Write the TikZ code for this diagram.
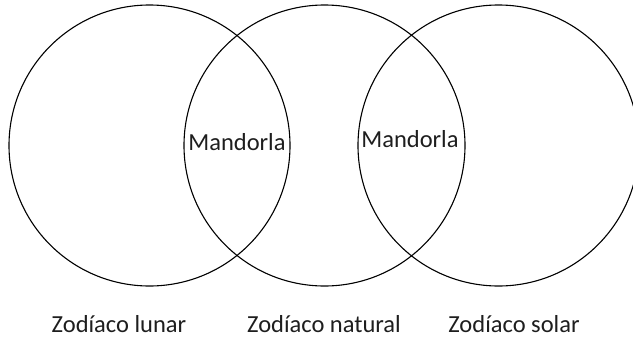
\documentclass[tikz,border=0pt]{standalone}
\usepackage{fontspec}
\setmainfont{Carlito}
\usepackage{tikz}
\usetikzlibrary{positioning}
\definecolor{inkgray}{RGB}{30, 30, 30}

\begin{document}
\begin{tikzpicture}[
        x=1pt, y=-1pt,
        zodiac/.style={circle, draw=black, line width=1.1pt, minimum size=281pt, inner sep=0pt},
        tag/.style={anchor=base, inner sep=0pt, text=inkgray, font=\fontsize{24.5}{28}\selectfont}
    ]
        \useasboundingbox (0,0) rectangle (633,340);

        % Circles
        \node[zodiac] (lunar) at (149.5, 145.5) {};
        \node[zodiac] (natural) at (324.5, 145.5) {};
        \node[zodiac] (solar) at (498.5, 145.5) {};

        % Overlaps
        \node[tag] (mandorla_a) at (237, 150) {Mandorla};
        \node[tag] (mandorla_b) at (410, 147) {Mandorla};

        % Names
        \node[tag] (lunar_name) at (119, 332) {Zodíaco lunar};
        \node[tag] (natural_name) at (324, 332) {Zodíaco natural};
        \node[tag] (solar_name) at (514, 332) {Zodíaco solar};

    \end{tikzpicture}
\end{document}
